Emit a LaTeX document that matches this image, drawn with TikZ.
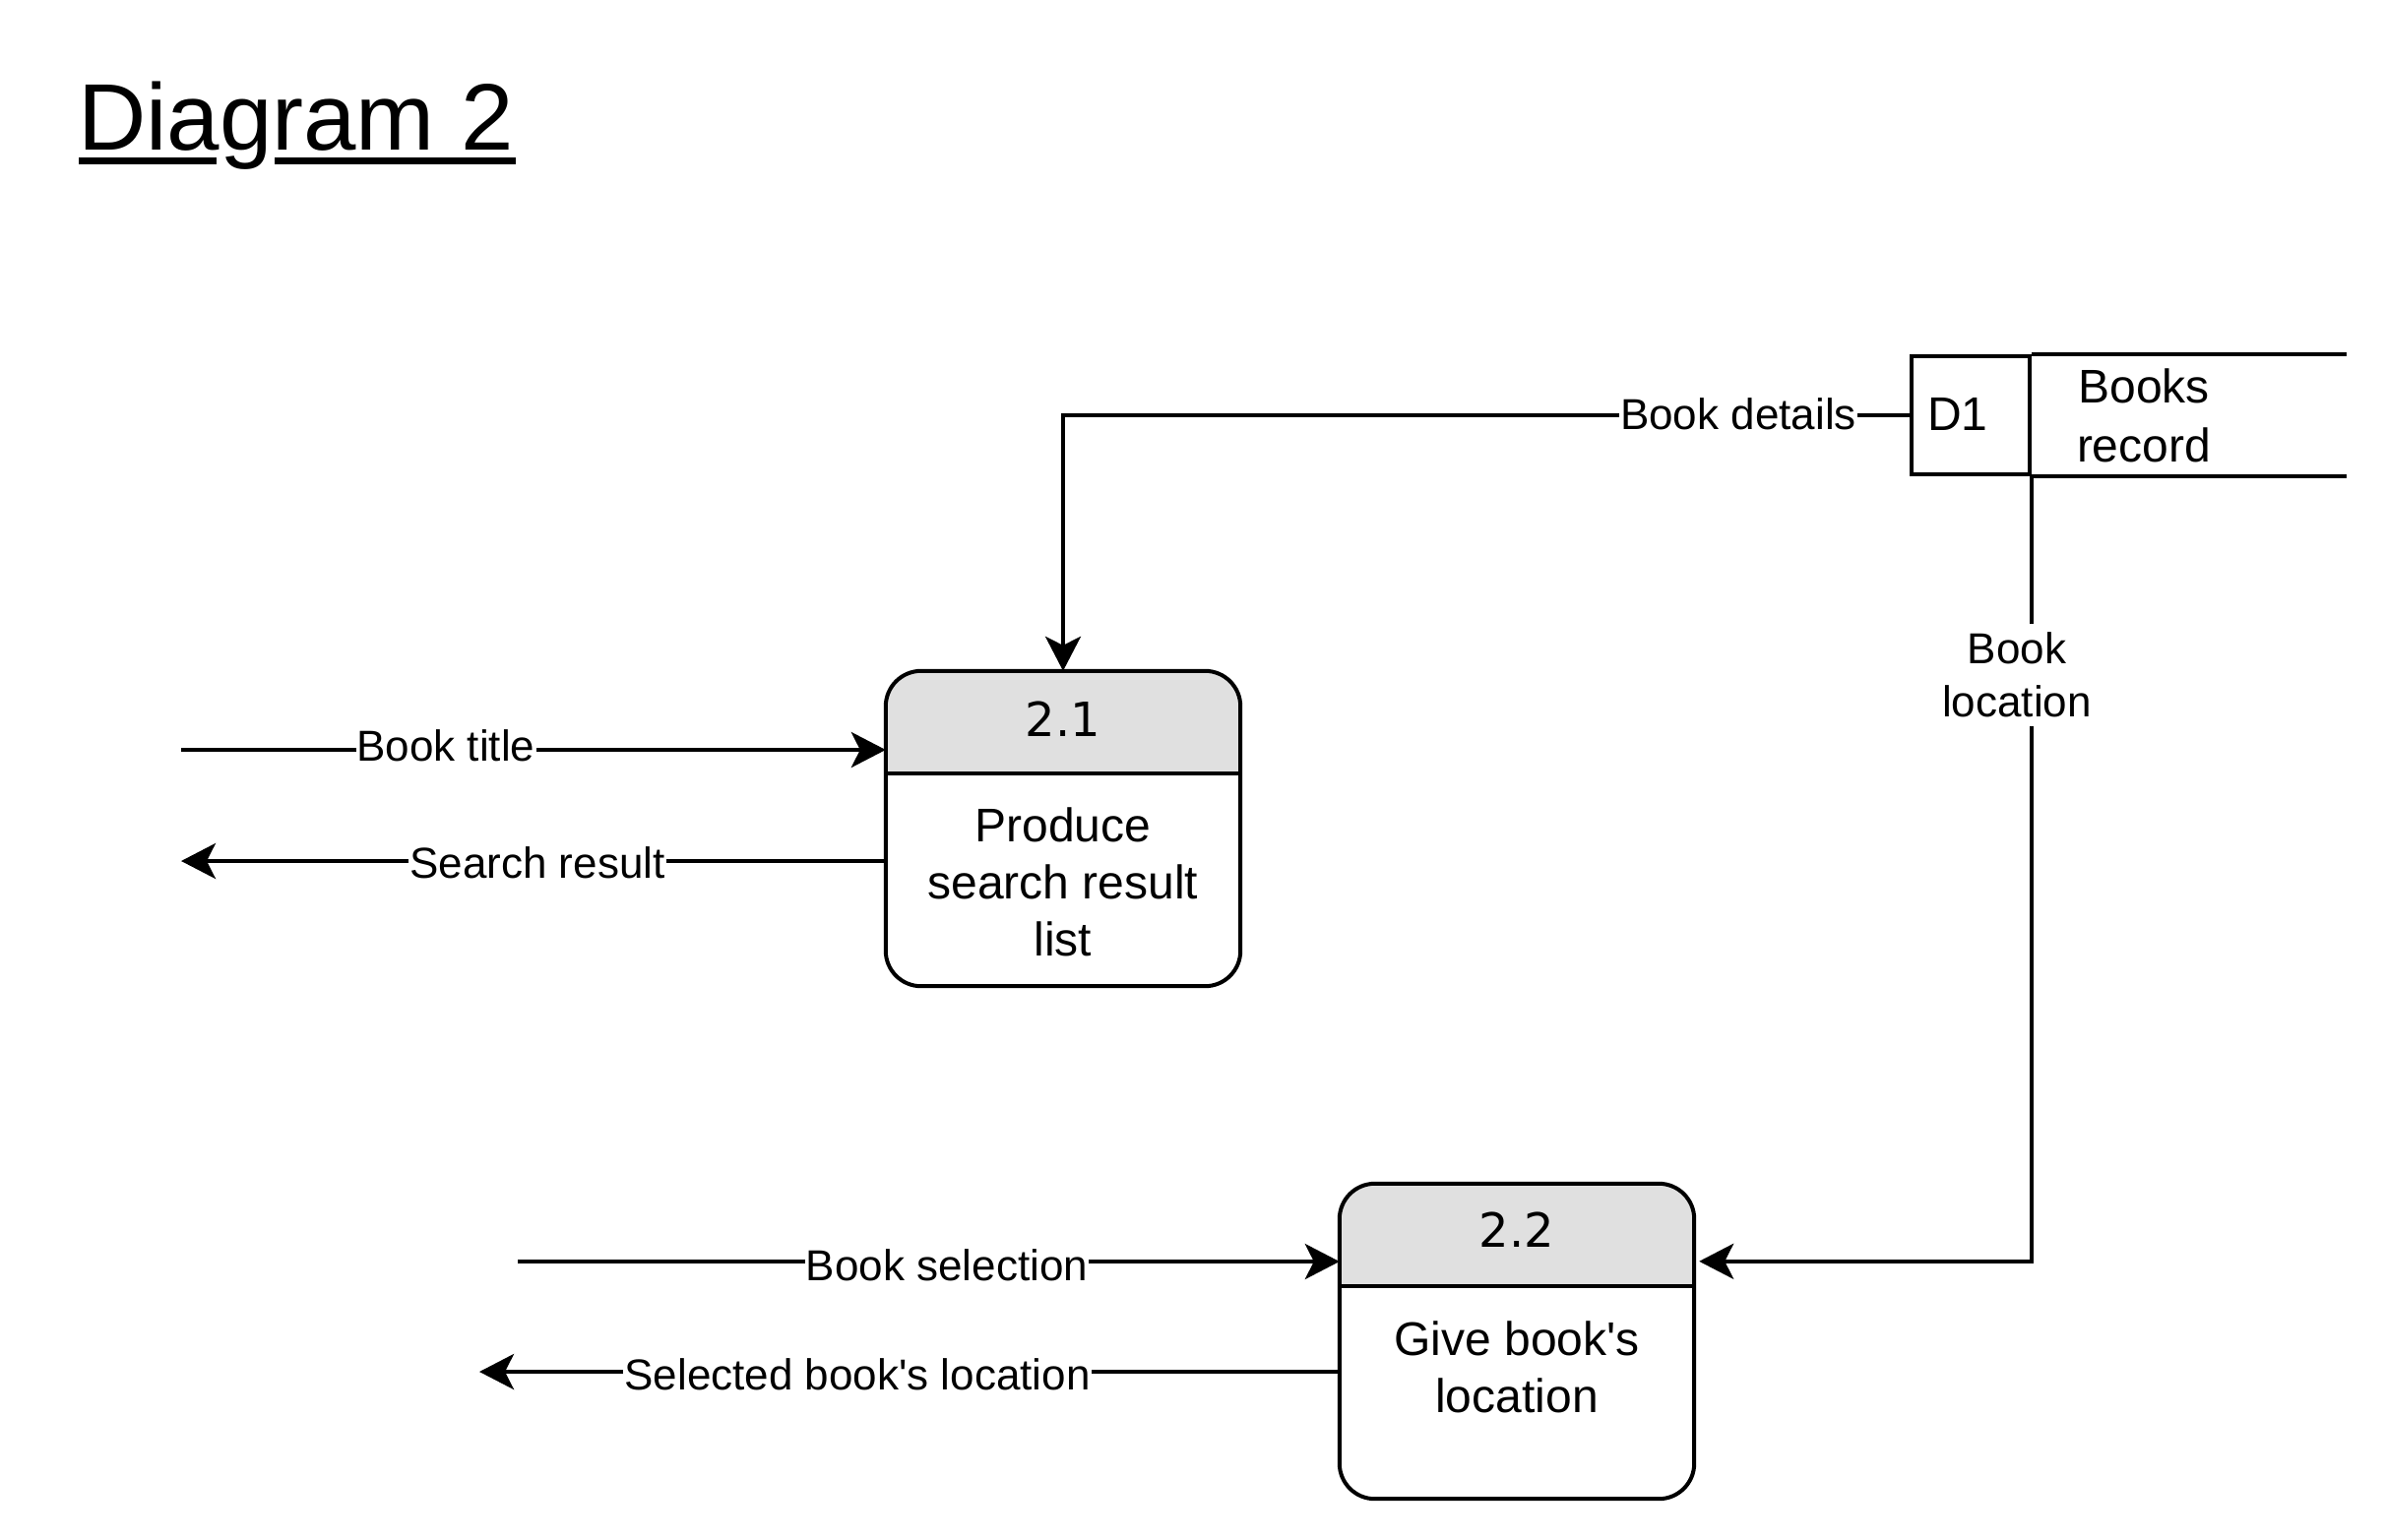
\documentclass[tikz,border=0pt]{standalone}
\usepackage{fontspec}
\setmainfont{Liberation Sans}
\newfontfamily\numfont{DejaVu Sans}
\usetikzlibrary{arrows.meta,calc}
\definecolor{hdrgray}{HTML}{E0E0E0}
\begin{document}
\begin{tikzpicture}[x=1pt,y=-1pt,
  lw/.style={line width=4pt},
  flow/.style={lw, -{Stealth[length=35pt,width=36pt,inset=9pt]}},
  lbl/.style={fill=white, inner xsep=1pt, inner ysep=2pt, font=\fontsize{44}{54}\selectfont, align=center},
  ptext/.style={inner sep=0pt, font=\fontsize{48}{58}\selectfont, align=center},
  ntext/.style={inner sep=0pt, font=\numfont\fontsize{48}{57}\selectfont},
  procbox/.style={minimum width=360pt, minimum height=320pt, inner sep=0pt},
  ]
\useasboundingbox[fill=white] (0,0) rectangle (2424,1564);

% title
\node[anchor=base west, inner sep=0pt, font=\fontsize{96}{115}\selectfont] (title) at (79,152) {Diagram 2};
\draw[line width=7pt] (80,163.5) -- (220,163.5) (279,163.5) -- (524,163.5);

% process 2.1
\node[procbox] (p21) at (1080,842) {};
\begin{scope}
\clip[rounded corners=36pt] (p21.south west) rectangle (p21.north east);
\fill[hdrgray] (p21.north west) rectangle ($(p21.north east)+(0,104)$);
\end{scope}
\draw[lw, rounded corners=36pt] (p21.south west) rectangle (p21.north east);
\draw[lw] ($(p21.north west)+(0,104)$) -- ($(p21.north east)+(0,104)$);
\node[ntext] (p21n) at (1080,731) {2.1};
\node[ptext] (p21t) at (1080,896) {Produce\\search result\\list};

% process 2.2
\node[procbox] (p22) at (1541,1363) {};
\begin{scope}
\clip[rounded corners=36pt] (p22.south west) rectangle (p22.north east);
\fill[hdrgray] (p22.north west) rectangle ($(p22.north east)+(0,104)$);
\end{scope}
\draw[lw, rounded corners=36pt] (p22.south west) rectangle (p22.north east);
\draw[lw] ($(p22.north west)+(0,104)$) -- ($(p22.north east)+(0,104)$);
\node[ntext] (p22n) at (1541,1250) {2.2};
\node[ptext] (p22t) at (1541,1389) {Give book\textquotesingle s\\location};

% data store D1
\node[draw, lw, minimum width=120pt, minimum height=120pt, inner sep=0pt] (d1) at (2002,422) {};
\draw[lw] (d1.north east) -- ++(320,0);
\draw[lw] (d1.south east) -- ++(320,0);
\node[anchor=base west, inner sep=0pt, font=\fontsize{48}{57}\selectfont] (d1id) at (1958,437) {D1};
\node[inner sep=0pt, font=\fontsize{48}{60}\selectfont, align=center] (d1name) at (2178,422) {Books\\record};

% flows
\draw[flow] (d1.west) -| (p21.north);
\draw[flow, shorten >=5pt] (d1.south east) |- ([yshift=-79pt]p22.north east);
\coordinate (btS) at (184,762);
\draw[flow] (btS) -- (btS -| p21.west);
\coordinate (srE) at (184,875);
\draw[flow] (srE -| p21.west) -- (srE);
\coordinate (bsS) at (526,1282);
\draw[flow] (bsS) -- (bsS -| p22.west);
\coordinate (slE) at (487,1394);
\draw[flow] (slE -| p22.west) -- (slE);

% labels
\node[lbl] (lbd) at (1766,421) {Book details};
\node[lbl, inner ysep=9pt] (lbl2) at (2049,686) {Book\\location};
\node[lbl] (lbt) at (453,758) {Book title};
\node[lbl] (lsr) at (546,876.5) {Search result};
\node[lbl] (lbs) at (962,1285.5) {Book selection};
\node[lbl] (lsl) at (871,1397) {Selected book\textquotesingle s location};
\end{tikzpicture}
\end{document}
